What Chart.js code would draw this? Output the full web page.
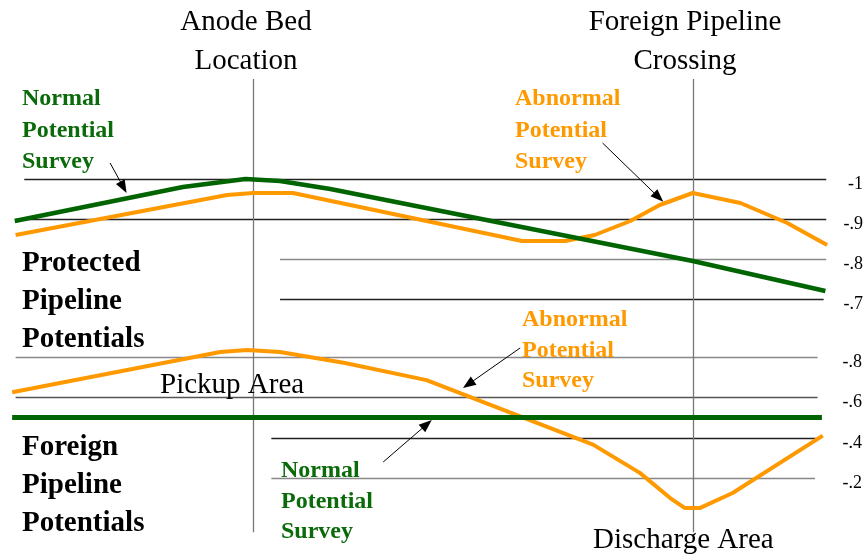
<!DOCTYPE html>
<html>
<head>
<meta charset="utf-8">
<script src="https://cdn.jsdelivr.net/npm/chart.js@4.4.1/dist/chart.umd.min.js"></script>
<style>
  html, body { margin: 0; padding: 0; background: #ffffff; }
  #wrap { width: 867px; height: 557px; }
</style>
</head>
<body>
<div id="wrap"><canvas id="chart" width="867" height="557"></canvas></div>
<script>
/* ===============================
   DATA  (x = distance along line, 0-100; y = potential, V)
================================ */
const protectedNormalX   = [1.7, 21.1, 28.3, 32.3, 38.1, 79.9, 95.2];
const protectedNormalY   = [-0.895, -0.98, -1.0, -0.995, -0.975, -0.795, -0.72];

const protectedAbnormalX = [1.8, 26.2, 29.2, 33.8, 60.2, 65.2, 68.6, 72.7, 76.1, 79.9, 85.4, 90.8, 95.4];
const protectedAbnormalY = [-0.86, -0.96, -0.965, -0.965, -0.845, -0.845, -0.86, -0.895, -0.935, -0.965, -0.94, -0.89, -0.835];

const foreignNormalX     = [1.4, 94.8];
const foreignNormalY     = [-0.5, -0.5];

const foreignAbnormalX   = [1.4, 25.4, 28.5, 32.3, 39.8, 49.2, 68.4, 73.8, 77.3, 79.0, 80.7, 84.5, 94.9];
const foreignAbnormalY   = [-0.625, -0.825, -0.835, -0.825, -0.77, -0.685, -0.365, -0.225, -0.1, -0.05, -0.05, -0.125, -0.41];

const protectedTicks      = [-1, -0.9, -0.8, -0.7];
const protectedTickLabels = ["-1", "-.9", "-.8", "-.7"];
const foreignTicks        = [-0.8, -0.6, -0.4, -0.2];
const foreignTickLabels   = ["-.8", "-.6", "-.4", "-.2"];

const anodeBedX = 29.2;
const crossingX = 79.9;

/* ===============================
   STYLE
================================ */
const ORANGE = "#ff9900";
const GREEN = "#006400";
const GREEN_TEXT = "#0b6b0b";
const SERIF = "'Liberation Serif', 'Times New Roman', serif";

// x-extent of each reference line, and its colour
const protectedGridSpan = [[2.8, 95.3], [1.8, 95.3], [32.3, 95.3], [32.3, 95.0]];
const protectedGridColor = ["#222", "#222", "#888", "#222"];
const foreignGridSpan = [[1.8, 94.3], [1.8, 94.3], [31.3, 94.6], [31.3, 94.0]];
const foreignGridColor = ["#888", "#555", "#222", "#888"];

function pts(xs, ys) {
  return xs.map((x, i) => ({ x: x, y: ys[i] }));
}

function arrow(ctx, x1, y1, x2, y2) {
  const a = Math.atan2(y2 - y1, x2 - x1);
  const len = 13, half = 5;
  ctx.save();
  ctx.strokeStyle = "#000";
  ctx.fillStyle = "#000";
  ctx.lineWidth = 1;
  ctx.beginPath();
  ctx.moveTo(x1, y1);
  ctx.lineTo(x2 - Math.cos(a) * len * 0.8, y2 - Math.sin(a) * len * 0.8);
  ctx.stroke();
  ctx.beginPath();
  ctx.moveTo(x2, y2);
  ctx.lineTo(x2 - Math.cos(a) * len - Math.sin(a) * half, y2 - Math.sin(a) * len + Math.cos(a) * half);
  ctx.lineTo(x2 - Math.cos(a) * len + Math.sin(a) * half, y2 - Math.sin(a) * len - Math.cos(a) * half);
  ctx.closePath();
  ctx.fill();
  ctx.restore();
}

function textLines(ctx, lines, x, y0, step, font, color, align) {
  ctx.font = font;
  ctx.fillStyle = color;
  ctx.textAlign = align || "left";
  ctx.textBaseline = "alphabetic";
  lines.forEach((t, i) => ctx.fillText(t, x, y0 + i * step));
}

/* ===============================
   GRID + VERTICAL MARKERS
================================ */
const gridPlugin = {
  id: "gridPlugin",
  beforeDatasetsDraw(chart) {
    const ctx = chart.ctx;
    const x = chart.scales.x, yt = chart.scales.yTop, yb = chart.scales.yBot;
    ctx.save();
    ctx.lineWidth = 1.3;

    protectedTicks.forEach((v, i) => {
      const py = Math.round(yt.getPixelForValue(v)) + 0.5;
      ctx.strokeStyle = protectedGridColor[i];
      ctx.beginPath();
      ctx.moveTo(x.getPixelForValue(protectedGridSpan[i][0]), py);
      ctx.lineTo(x.getPixelForValue(protectedGridSpan[i][1]), py);
      ctx.stroke();
    });
    foreignTicks.forEach((v, i) => {
      const py = Math.round(yb.getPixelForValue(v)) + 0.5;
      ctx.strokeStyle = foreignGridColor[i];
      ctx.beginPath();
      ctx.moveTo(x.getPixelForValue(foreignGridSpan[i][0]), py);
      ctx.lineTo(x.getPixelForValue(foreignGridSpan[i][1]), py);
      ctx.stroke();
    });

    ctx.strokeStyle = "#777";
    [anodeBedX, crossingX].forEach(v => {
      const px = Math.round(x.getPixelForValue(v)) + 0.5;
      ctx.beginPath();
      ctx.moveTo(px, yt.getPixelForValue(-1.25));
      ctx.lineTo(px, yb.getPixelForValue(0.07));
      ctx.stroke();
    });
    ctx.restore();
  }
};

/* ===============================
   LABELS + ARROWS
================================ */
const labelPlugin = {
  id: "labelPlugin",
  afterDatasetsDraw(chart) {
    const ctx = chart.ctx;
    const x = chart.scales.x, yt = chart.scales.yTop, yb = chart.scales.yBot;
    ctx.save();

    // right-hand tick labels
    ctx.font = "18px " + SERIF;
    ctx.fillStyle = "#000";
    ctx.textAlign = "right";
    protectedTicks.forEach((v, i) => {
      ctx.fillText(protectedTickLabels[i], 863, yt.getPixelForValue(v) + 10);
    });
    foreignTicks.forEach((v, i) => {
      ctx.fillText(foreignTickLabels[i], 862, yb.getPixelForValue(v) + 10);
    });

    const big = "29px " + SERIF;
    const bigBold = "bold 29px " + SERIF;
    const small = "bold 24px " + SERIF;

    textLines(ctx, ["Anode Bed", "Location"], 246, 30, 39, big, "#000", "center");
    textLines(ctx, ["Foreign Pipeline", "Crossing"], 685, 30, 39, big, "#000", "center");

    textLines(ctx, ["Normal", "Potential", "Survey"], 22, 105, 31.5, small, GREEN_TEXT);
    textLines(ctx, ["Abnormal", "Potential", "Survey"], 515, 105, 31.5, small, ORANGE);
    textLines(ctx, ["Protected", "Pipeline", "Potentials"], 22, 271, 38, bigBold, "#000");

    textLines(ctx, ["Abnormal", "Potential", "Survey"], 522, 326, 30.5, small, ORANGE);
    textLines(ctx, ["Pickup Area"], 160, 393, 0, big, "#000");
    textLines(ctx, ["Foreign", "Pipeline", "Potentials"], 22, 455, 38, bigBold, "#000");
    textLines(ctx, ["Normal", "Potential", "Survey"], 281, 477, 30.5, small, GREEN_TEXT);
    textLines(ctx, ["Discharge Area"], 593, 548, 0, big, "#000");

    // arrows (start -> tip), in data units
    arrow(ctx, x.getPixelForValue(12.7), yt.getPixelForValue(-1.04),
               x.getPixelForValue(14.6), yt.getPixelForValue(-0.965));
    arrow(ctx, x.getPixelForValue(69.5), yt.getPixelForValue(-1.09),
               x.getPixelForValue(76.5), yt.getPixelForValue(-0.943));
    arrow(ctx, x.getPixelForValue(60.0), yb.getPixelForValue(-0.845),
               x.getPixelForValue(53.4), yb.getPixelForValue(-0.646));
    arrow(ctx, x.getPixelForValue(44.2), yb.getPixelForValue(-0.279),
               x.getPixelForValue(49.8), yb.getPixelForValue(-0.487));
    ctx.restore();
  }
};

/* ===============================
   CHART
================================ */
new Chart(document.getElementById("chart"), {
  type: "line",
  data: {
    datasets: [
      {
        label: "Protected - Normal Potential Survey",
        data: pts(protectedNormalX, protectedNormalY),
        yAxisID: "yTop",
        borderColor: GREEN,
        borderWidth: 4.5
      },
      {
        label: "Foreign - Normal Potential Survey",
        data: pts(foreignNormalX, foreignNormalY),
        yAxisID: "yBot",
        borderColor: GREEN,
        borderWidth: 5
      },
      {
        label: "Protected - Abnormal Potential Survey",
        data: pts(protectedAbnormalX, protectedAbnormalY),
        yAxisID: "yTop",
        borderColor: ORANGE,
        borderWidth: 4
      },
      {
        label: "Foreign - Abnormal Potential Survey",
        data: pts(foreignAbnormalX, foreignAbnormalY),
        yAxisID: "yBot",
        borderColor: ORANGE,
        borderWidth: 4
      }
    ]
  },
  options: {
    responsive: false,
    animation: false,
    layout: { padding: 0 },
    elements: {
      point: { radius: 0, hoverRadius: 0 },
      line: { tension: 0, fill: false, borderCapStyle: "butt", borderJoinStyle: "round" }
    },
    plugins: {
      legend: { display: false },
      tooltip: { enabled: false },
      title: { display: false }
    },
    scales: {
      x: { type: "linear", min: 0, max: 100, display: false },
      yTop: { type: "linear", min: -1.4475, max: -0.055, reverse: true, display: false },
      yBot: { type: "linear", min: -2.5717, max: 0.1926, reverse: true, display: false }
    }
  },
  plugins: [gridPlugin, labelPlugin]
});
</script>
</body>
</html>
